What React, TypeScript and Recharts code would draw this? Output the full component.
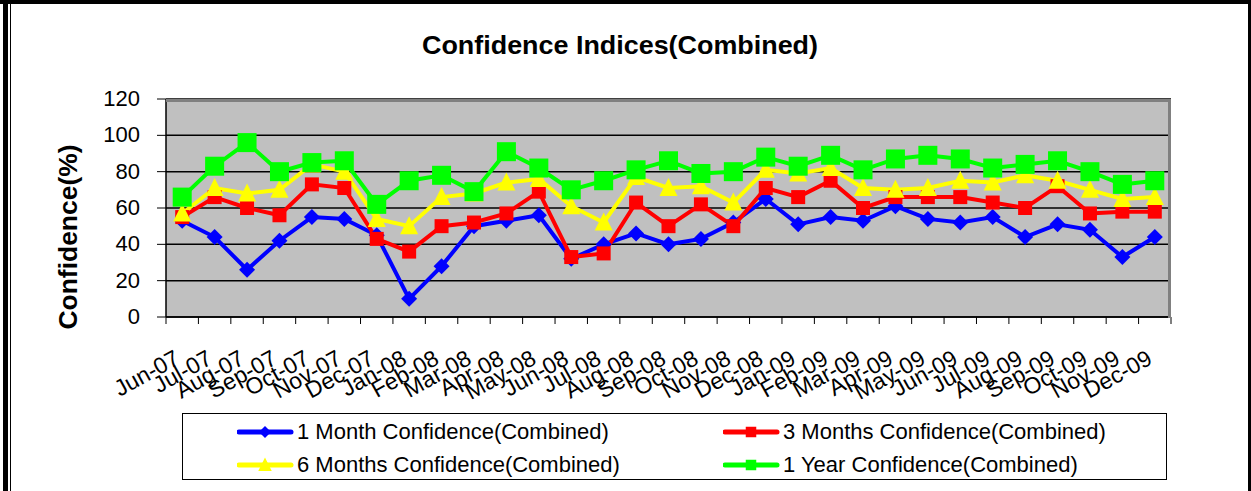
import { CartesianGrid, Label, Line, LineChart, XAxis, YAxis } from "recharts";

const months = [
  "Jun-07", "Jul-07", "Aug-07", "Sep-07", "Oct-07", "Nov-07", "Dec-07",
  "Jan-08", "Feb-08", "Mar-08", "Apr-08", "May-08", "Jun-08", "Jul-08",
  "Aug-08", "Sep-08", "Oct-08", "Nov-08", "Dec-08", "Jan-09", "Feb-09",
  "Mar-09", "Apr-09", "May-09", "Jun-09", "Jul-09", "Aug-09", "Sep-09",
  "Oct-09", "Nov-09", "Dec-09",
];
const oneMonth = [53, 44, 26, 42, 55, 54, 45, 10, 28, 50, 53, 56, 32, 40, 46, 40, 43, 52, 65, 51, 55, 53, 61, 54, 52, 55, 44, 51, 48, 33, 44];
const threeMonths = [55, 66, 60, 56, 73, 71, 43, 36, 50, 52, 57, 69, 33, 35, 63, 50, 62, 50, 71, 66, 75, 60, 66, 66, 66, 63, 60, 72, 57, 58, 58];
const sixMonths = [57, 71, 68, 70, 84, 80, 54, 50, 66, 68, 74, 76, 61, 52, 77, 71, 72, 63, 81, 79, 82, 71, 70, 71, 75, 74, 78, 75, 70, 65, 66];
const oneYear = [66, 83, 96, 80, 85, 86, 62, 75, 78, 69, 91, 82, 70, 75, 81, 86, 79, 80, 88, 83, 89, 81, 87, 89, 87, 82, 84, 86, 80, 73, 75];
const yTicks = [0, 20, 40, 60, 80, 100, 120];

const FONT = "'Liberation Sans', Arial, sans-serif";

type Shape = "diamond" | "square" | "triangle" | "bigsquare";

const series: { key: string; name: string; color: string; shape: Shape }[] = [
  { key: "m1", name: "1 Month Confidence(Combined)", color: "#0000FF", shape: "diamond" },
  { key: "m3", name: "3 Months Confidence(Combined)", color: "#FF0000", shape: "square" },
  { key: "m6", name: "6 Months Confidence(Combined)", color: "#FFFF00", shape: "triangle" },
  { key: "y1", name: "1 Year Confidence(Combined)", color: "#00FF00", shape: "bigsquare" },
];

const data = months.map((m, i) => ({
  month: m,
  m1: oneMonth[i],
  m3: threeMonths[i],
  m6: sixMonths[i],
  y1: oneYear[i],
}));

function marker(shape: Shape, cx: number, cy: number, color: string, key?: string | number, scale = 1) {
  if (shape === "diamond") {
    const r = 8 * scale;
    return <polygon key={key} points={`${cx},${cy - r} ${cx + r},${cy} ${cx},${cy + r} ${cx - r},${cy}`} fill={color} />;
  }
  if (shape === "square" || shape === "bigsquare") {
    const s = (shape === "square" ? 14 : 19) * scale;
    return <rect key={key} x={cx - s / 2} y={cy - s / 2} width={s} height={s} fill={color} />;
  }
  const w = 18 * scale;
  const h = 16 * scale;
  return <polygon key={key} points={`${cx},${cy - h / 2 - 2 * scale} ${cx + w / 2},${cy + h / 2} ${cx - w / 2},${cy + h / 2}`} fill={color} />;
}

function MonthTick(props: any) {
  const { x, y, payload, index } = props;
  const half = payload?.offset ? payload.offset : 16.2;
  const tx = x - 1;
  const ty = y + 46;
  return (
    <g>
      <line x1={x - half} y1={y} x2={x - half} y2={y + 7} stroke="#000" />
      {index === months.length - 1 && <line x1={x + half} y1={y} x2={x + half} y2={y + 7} stroke="#000" />}
      <text
        x={tx}
        y={ty}
        textAnchor="end"
        fontSize={23}
        fontFamily={FONT}
        fill="#000"
        transform={`rotate(-29 ${tx} ${ty})`}
      >
        {payload.value}
      </text>
    </g>
  );
}

function ValueTick(props: any) {
  const { x, y, payload } = props;
  return (
    <text x={x} y={y} dy={7} textAnchor="end" fontSize={22} fontFamily={FONT} fill="#000">
      {payload.value}
    </text>
  );
}

export default function App() {
  return (
    <div style={{ position: "absolute", left: 0, top: 0, width: 1251, height: 491, background: "#fff", overflow: "hidden" }}>
      <div style={{ position: "absolute", left: 0, top: 0, width: 1251, height: 4, background: "#000" }} />
      <div style={{ position: "absolute", left: 3, top: 0, width: 5, height: 491, background: "#000" }} />
      <div style={{ position: "absolute", left: 10, top: 0, width: 1, height: 491, background: "#000" }} />
      <div style={{ position: "absolute", left: 1248, top: 0, width: 3, height: 491, background: "#000" }} />

      <svg width={1251} height={80} style={{ position: "absolute", left: 0, top: 0 }}>
        <text x={620} y={54} textAnchor="middle" fontSize={26} fontWeight="bold" fontFamily={FONT} textLength={396} lengthAdjust="spacingAndGlyphs">
          Confidence Indices(Combined)
        </text>
      </svg>

      <div style={{ position: "absolute", left: 0, top: 0 }}>
        <LineChart width={1251} height={491} data={data} margin={{ top: 99, right: 80, bottom: 83, left: 0 }}>
          <CartesianGrid vertical={false} fill="#C0C0C0" stroke="#000" strokeWidth={1.5} fillOpacity={1} />
          <XAxis
            dataKey="month"
            scale="band"
            interval={0}
            height={91}
            tickSize={0}
            tickMargin={0}
            tickLine={false}
            axisLine={{ stroke: "#000", strokeWidth: 1.5 }}
            tick={<MonthTick />}
          />
          <YAxis
            domain={[0, 120]}
            ticks={yTicks}
            width={166}
            tickSize={9}
            tickMargin={17}
            tickLine={{ stroke: "#000" }}
            axisLine={{ stroke: "#000", strokeWidth: 1.5 }}
            tick={<ValueTick />}
          >
            <Label
              content={() => (
                <text
                  x={77}
                  y={237}
                  textAnchor="middle"
                  fontSize={26}
                  fontWeight="bold"
                  fontFamily={FONT}
                  transform="rotate(-90 77 237)"
                  textLength={185}
                  lengthAdjust="spacingAndGlyphs"
                >
                  Confidence(%)
                </text>
              )}
            />
          </YAxis>
          {series.map((s) => (
            <Line
              key={s.key}
              dataKey={s.key}
              name={s.name}
              stroke={s.color}
              strokeWidth={4}
              type="linear"
              isAnimationActive={false}
              dot={(p: any) => marker(s.shape, p.cx, p.cy, s.color, `${s.key}-${p.index}`)}
              activeDot={false}
            />
          ))}
        </LineChart>
      </div>

      <div
        style={{
          position: "absolute",
          left: 166,
          top: 99,
          width: 1005,
          height: 219,
          borderTop: "3px solid #808080",
          borderRight: "3px solid #808080",
          boxSizing: "border-box",
          pointerEvents: "none",
        }}
      />

      <div
        style={{
          position: "absolute",
          left: 182,
          top: 413,
          width: 985,
          height: 67,
          border: "1px solid #000",
          boxSizing: "border-box",
          background: "#fff",
        }}
      >
        {series.map((s, i) => {
          const col = i % 2;
          const row = Math.floor(i / 2);
          return (
            <div
              key={s.key}
              style={{
                position: "absolute",
                left: col === 0 ? 54 : 540,
                top: row === 0 ? 3 : 36,
                height: 30,
                display: "flex",
                alignItems: "center",
                fontFamily: FONT,
                fontSize: 22,
                color: "#000",
                whiteSpace: "nowrap",
              }}
            >
              <svg width={58} height={30} style={{ marginRight: 2 }}>
                <line x1={2} y1={15} x2={54} y2={15} stroke={s.color} strokeWidth={5} strokeLinecap="round" />
                {marker(s.shape === "bigsquare" ? "square" : s.shape, 28, 15, s.color, undefined, 0.75)}
              </svg>
              {s.name}
            </div>
          );
        })}
      </div>
    </div>
  );
}
